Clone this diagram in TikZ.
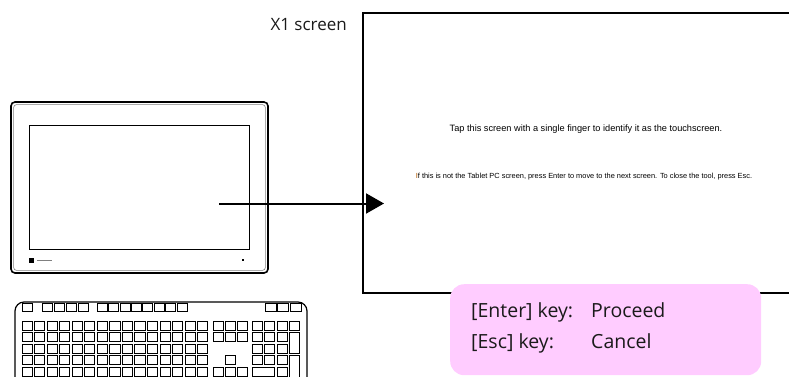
\documentclass[tikz,border=0pt]{standalone}
\usepackage{fontspec}
\setmainfont{Open Sans}
\newfontfamily\uifont{Liberation Sans}
\usetikzlibrary{arrows.meta}
\definecolor{notepink}{HTML}{FFCCFF}
\definecolor{inktext}{HTML}{1A1A1A}

\tikzset{
  kbkey/.style={draw=black, line width=1pt},
  bezel/.style={draw=black, line width=1.6pt, rounded corners=4pt},
  screenframe/.style={draw=black, line width=2pt, inner sep=0pt, anchor=north west},
  pointer/.style={draw=black, line width=2pt, -{Triangle[length=18pt,width=20pt]}},
  caption/.style={font=\fontsize{17}{20}\selectfont, text=inktext},
  keytext/.style={font=\fontsize{19.5}{23}\selectfont, text=inktext, anchor=base west, inner sep=0pt},
}

\begin{document}
\begin{tikzpicture}[x=1pt, y=-1pt]
\useasboundingbox (0,0) rectangle (789,376);

% ---- tablet panel ----
\draw[bezel] (11,102) rectangle (268,273);
\draw[draw=gray, line width=0.6pt, rounded corners=3pt] (13.6,104.6) rectangle (265.4,270.4);
\draw[line width=1pt] (29,125) rectangle (249,249);
\fill[black] (29,257.5) rectangle (34,262.5);
\draw[gray, line width=0.6pt] (37,260.5) -- (52,260.5);
\fill[black] (242.2,259.2) rectangle (244.2,261.2);
\coordinate (tap) at (219,203.5);

% ---- keyboard ----
\draw[line width=1.2pt, rounded corners=9pt] (15,302) rectangle (307,386);
% function row
\draw[kbkey] (22,303.5) rectangle ++(10,8);
\foreach \i in {0,...,3} \draw[kbkey] ({42.7+\i*11.9},303.5) rectangle ++(10,8);
\foreach \i in {0,...,7} \draw[kbkey] ({97.3+\i*11.4},303.5) rectangle ++(10,8);
\foreach \i in {0,...,2} \draw[kbkey] ({265+\i*12.5},303.5) rectangle ++(11,8);
% main block
\foreach \r in {0,...,4}
  \foreach \c in {0,...,14}
    \draw[kbkey] ({22+\c*12.55},{321+\r*11.5}) rectangle ++(10.2,9.3);
% navigation block
\foreach \r in {0,1,4}
  \foreach \c in {0,1,2}
    \draw[kbkey] ({213.5+\c*12},{321+\r*11.5}) rectangle ++(9.8,9.3);
\draw[kbkey] (225.5,355.5) rectangle ++(9.8,9.3);
% numeric pad
\foreach \c in {0,...,3} \draw[kbkey] ({252+\c*12.5},321) rectangle ++(10.2,9.3);
\foreach \r in {1,2,3}
  \foreach \c in {0,1,2}
    \draw[kbkey] ({252+\c*12.5},{321+\r*11.5}) rectangle ++(10.2,9.3);
\draw[kbkey] (289.5,332.5) rectangle (299.7,353.3);
\draw[kbkey] (289.5,355.5) rectangle (299.7,377);
\draw[kbkey] (252,367) rectangle ++(22.7,9.3);
\draw[kbkey] (277,367) rectangle ++(10.2,9.3);

% ---- X1 screen ----
\node[screenframe, minimum width=460pt, minimum height=280pt] (xone) at (362,12) {};
\node[caption, anchor=base east, inner sep=0pt] (xlabel) at (347,30.5) {X1 screen};
\node[font=\uifont\fontsize{9.2}{11}\selectfont, anchor=base, inner sep=0pt] (tapmsg) at (586,131)
  {Tap this screen with a single finger to identify it as the touchscreen.};
\node[font=\uifont\fontsize{7.4}{9}\selectfont, anchor=base, inner sep=0pt] (skipmsg) at (584,178.5)
  {\textcolor{orange!70!black}{I}f this is not the Tablet PC screen, press Enter to move to the next screen. To close the tool, press Esc.};

% ---- pointer ----
\path (tap -| xone.west) coordinate (edge);
\draw[pointer] (tap) -- ([xshift=22pt]edge);

% ---- key legend ----
\node[fill=notepink, rounded corners=14pt, anchor=north west, minimum width=311pt, minimum height=91pt, inner sep=0pt] (legend) at (450,284) {};
\node[keytext] (enterkey) at (471,317.5) {[Enter] key:};
\node[keytext] (enteract) at (591,317.5) {Proceed};
\node[keytext] (esckey) at (471,348) {[Esc] key:};
\node[keytext] (escact) at (591,348) {Cancel};
\end{tikzpicture}
\end{document}
